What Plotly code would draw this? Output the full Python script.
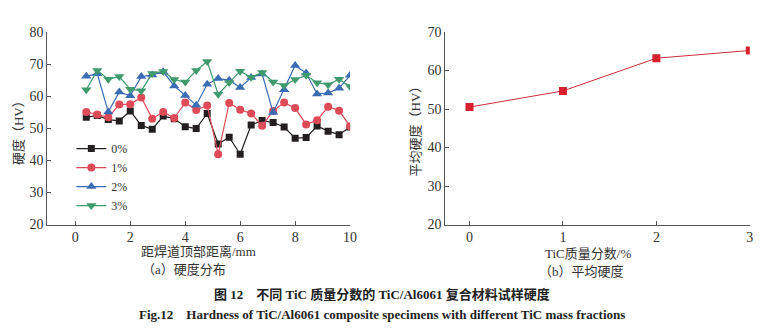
import plotly.graph_objects as go

# ---- data ----
x_pos = [0.4, 0.8, 1.2, 1.6, 2.0, 2.4, 2.8, 3.2, 3.6, 4.0, 4.4, 4.8, 5.2,
         5.6, 6.0, 6.4, 6.8, 7.2, 7.6, 8.0, 8.4, 8.8, 9.2, 9.6, 10.0]
hv_0 = [53.4, 54.0, 52.7, 52.3, 55.4, 50.9, 49.7, 53.8, 53.0, 50.5, 49.9, 54.6, 45.1,
        47.2, 41.9, 51.0, 52.4, 51.8, 50.4, 46.9, 47.1, 50.7, 49.1, 48.0, 50.4]
hv_1 = [55.1, 54.3, 53.4, 57.4, 57.5, 59.6, 53.0, 55.1, 53.2, 58.0, 55.7, 57.1, 41.9,
        57.9, 55.8, 54.6, 50.8, 55.4, 58.0, 56.3, 51.2, 52.5, 56.7, 55.5, 50.6]
hv_2 = [66.2, 67.0, 55.1, 61.3, 60.1, 66.1, 66.6, 67.6, 63.2, 60.2, 57.2, 63.7, 65.5,
        65.0, 62.7, 65.8, 66.9, 54.9, 62.0, 69.6, 67.2, 60.7, 61.0, 62.5, 66.5]
hv_3 = [62.0, 68.0, 65.3, 66.1, 62.2, 61.7, 67.1, 67.7, 65.2, 64.4, 68.0, 70.8, 60.6,
        64.3, 67.8, 65.9, 67.4, 64.4, 63.3, 65.2, 66.5, 64.2, 63.6, 65.3, 63.0]
series_names = ["0%", "1%", "2%", "3%"]

tic_frac = [0, 1, 2, 3]
avg_hv = [50.5, 54.7, 63.2, 65.2]

# ---- styles ----
W, H = 771, 335
FONT = "Liberation Serif, Noto Sans CJK SC, serif"
colors = ["#231f20", "#de4b58", "#3a6cb4", "#3f9a6e"]
symbols = ["square", "circle", "triangle-up", "triangle-down"]
msizes = [7, 8, 9, 9]

fig = go.Figure()
for name, ys, c, s, ms in zip(series_names, [hv_0, hv_1, hv_2, hv_3], colors, symbols, msizes):
    fig.add_trace(go.Scatter(
        x=x_pos, y=ys, name=name, mode="lines+markers",
        line=dict(color=c, width=1.2),
        marker=dict(color=c, symbol=s, size=ms),
        xaxis="x", yaxis="y"))

fig.add_trace(go.Scatter(
    x=tic_frac, y=avg_hv, mode="lines+markers", showlegend=False,
    line=dict(color="#c9303c", width=1),
    marker=dict(color="#d6202e", symbol="square", size=8),
    xaxis="x2", yaxis="y2"))

def px_x(p):
    return p / W

def px_y(p):
    return 1 - p / H

ax_common = dict(showline=True, linecolor="#555", linewidth=1, ticks="inside",
                 ticklen=4, tickcolor="#555", showgrid=False, zeroline=False,
                 tickfont=dict(family=FONT, size=14, color="#333"))

ydom = [px_y(227.7), px_y(26.2)]
fig.update_layout(
    width=W, height=H, margin=dict(l=0, r=0, t=0, b=0),
    paper_bgcolor="white", plot_bgcolor="white",
    font=dict(family=FONT, size=13, color="#333"),
    xaxis=dict(domain=[px_x(47.7), px_x(353.3)], range=[-1.02, 10], dtick=2,
               anchor="y", **ax_common),
    yaxis=dict(domain=ydom, range=[20, 80], dtick=10, anchor="x", **ax_common),
    xaxis2=dict(domain=[px_x(449.3), px_x(756.7)], range=[-0.26, 3.0], dtick=1,
                anchor="y2", **ax_common),
    yaxis2=dict(domain=ydom, range=[20, 70], dtick=10, anchor="x2", **ax_common),
    legend=dict(x=px_x(72), y=px_y(133), xanchor="left", yanchor="top",
                bgcolor="rgba(0,0,0,0)", font=dict(family=FONT, size=12, color="#333"),
                itemwidth=30, tracegroupgap=0),
    showlegend=True,
)

ann = [
    dict(text="硬度（HV）", x=px_x(18), y=px_y(128), textangle=-90, size=13),
    dict(text="距焊道顶部距离/mm", x=px_x(200), y=px_y(256), size=13),
    dict(text="（a）硬度分布", x=px_x(186), y=px_y(275), size=13),
    dict(text="平均硬度（HV）", x=px_x(419), y=px_y(127), textangle=-90, size=13),
    dict(text="TiC质量分数/%", x=px_x(593), y=px_y(258), size=13),
    dict(text="（b）平均硬度", x=px_x(587), y=px_y(277), size=13),
    dict(text="<b>图 12　不同 TiC 质量分数的 TiC/Al6061 复合材料试样硬度</b>",
         x=0.5, y=px_y(301), size=13, color="#222"),
    dict(text="<b>Fig.12　Hardness of TiC/Al6061 composite specimens with different TiC mass fractions</b>",
         x=0.5, y=px_y(322), size=13, color="#222"),
]
for a in ann:
    fig.add_annotation(
        text=a["text"], x=a["x"], y=a["y"], xref="paper", yref="paper",
        showarrow=False, textangle=a.get("textangle", 0),
        xanchor="center", yanchor="middle",
        font=dict(family=FONT, size=a["size"], color=a.get("color", "#333")))

fig.write_html("out.html")
